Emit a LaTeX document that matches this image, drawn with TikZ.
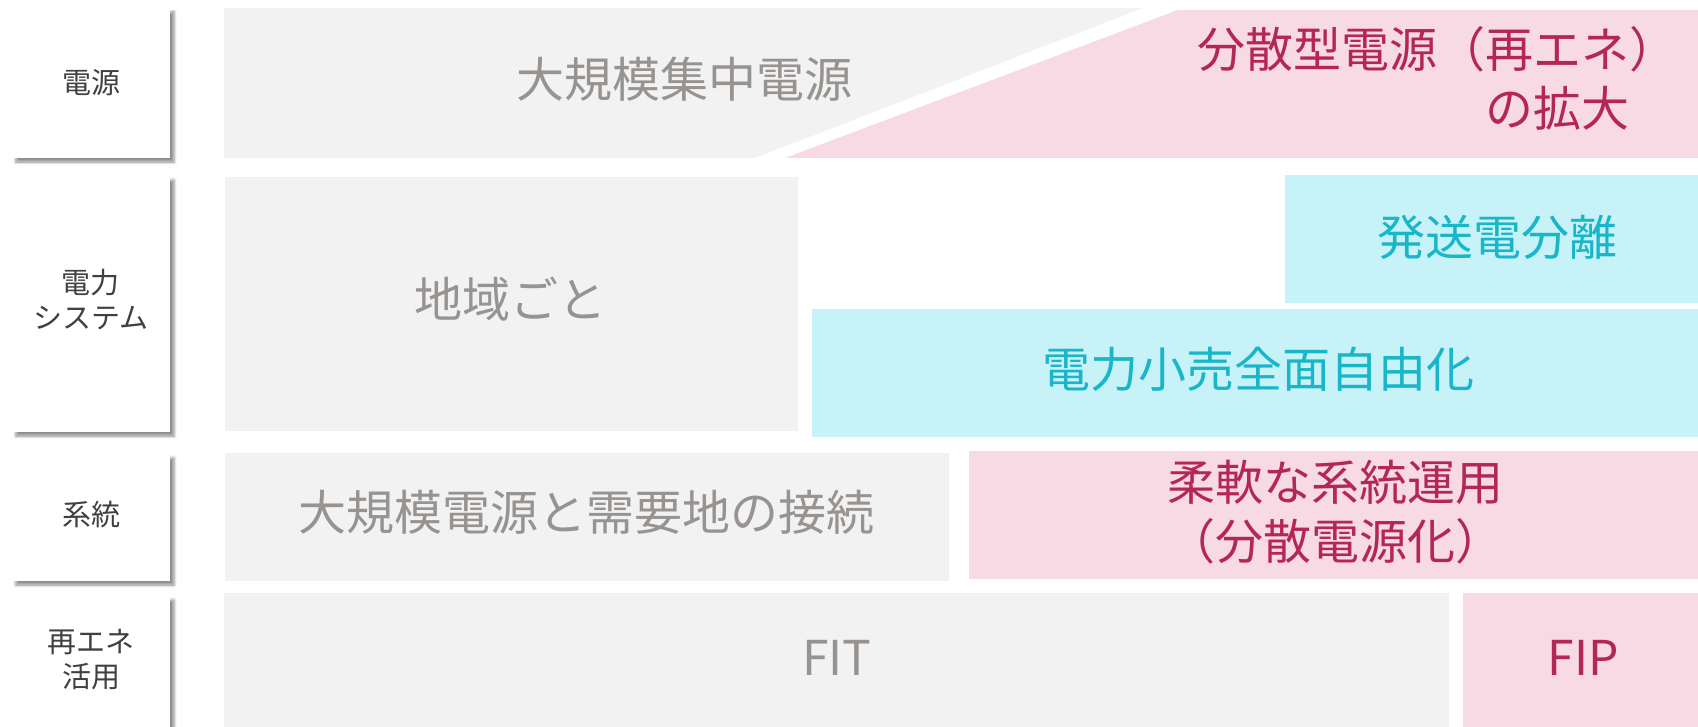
\documentclass[tikz,border=0pt]{standalone}
\usepackage{fontspec}
\setmainfont{Noto Sans CJK JP}
\usetikzlibrary{shadows.blur}
\definecolor{gbg}{RGB}{242,242,242}
\definecolor{gtx}{RGB}{150,147,145}
\definecolor{pbg}{RGB}{247,218,227}
\definecolor{ptx}{RGB}{181,38,88}
\definecolor{cbg}{RGB}{199,242,248}
\definecolor{ctx}{RGB}{25,182,202}
\definecolor{ltx}{RGB}{64,64,64}
\tikzset{
  labbox/.style={fill=white, blur shadow={shadow xshift=4pt, shadow yshift=-4pt, shadow blur radius=3pt, shadow opacity=45}},
  labtxt/.style={text=ltx, align=center, inner sep=0pt, font=\fontsize{29}{35}\selectfont},
  greybox/.style={fill=gbg},
  pinkbox/.style={fill=pbg},
  cyanbox/.style={fill=cbg},
  gtxt/.style={text=gtx, align=center, inner sep=0pt, font=\fontsize{48}{59}\selectfont},
  ptxt/.style={text=ptx, align=center, inner sep=0pt, font=\fontsize{48}{59}\selectfont},
  ctxt/.style={text=ctx, align=center, inner sep=0pt, font=\fontsize{48}{59}\selectfont},
}
\begin{document}
\begin{tikzpicture}[x=1pt,y=-1pt]
\useasboundingbox (0,0) rectangle (1698,727);
% label column
\path[labbox] (12,8) rectangle (170,158);
\path[labbox] (12,176) rectangle (170,432);
\path[labbox] (12,454) rectangle (170,581);
\path[labbox] (12,596) rectangle (170,750);
\node[labtxt] (l1) at (91,83) {電源};
\node[labtxt] (l2) at (91,300) {電力\\システム};
\node[labtxt] (l3) at (91,515) {系統};
\node[labtxt] (l4) at (91,660) {再エネ\\活用};
% row 1
\path[greybox] (224,8) -- (1143,8) -- (755,158) -- (224,158) -- cycle;
\path[pinkbox] (1178,10) -- (1698,10) -- (1698,158) -- (785,158) -- cycle;
\node[gtxt] (t1) at (684,79) {大規模集中電源};
\node[ptxt, anchor=base west] (t2a) at (1197,68) {分散型電源（再エネ）};
\node[ptxt, anchor=base west] (t2b) at (1485,127) {の拡大};
% row 2
\path[greybox] (225,177) rectangle (798,431);
\path[cyanbox] (1285,175) rectangle (1698,303);
\path[cyanbox] (812,309) rectangle (1698,437);
\node[gtxt] (t3) at (510,299) {地域ごと};
\node[ctxt] (t4) at (1497,237) {発送電分離};
\node[ctxt] (t5) at (1258,369) {電力小売全面自由化};
% row 3
\path[greybox] (225,453) rectangle (949,581);
\path[pinkbox] (969,451) rectangle (1698,579);
\node[gtxt] (t6) at (586,512) {大規模電源と需要地の接続};
\node[ptxt] (t7) at (1335,512) {柔軟な系統運用\\（分散電源化）};
% row 4
\path[greybox] (224,593) rectangle (1449,727);
\path[pinkbox] (1463,593) rectangle (1698,727);
\node[gtxt] (t8) at (837,658) {FIT};
\node[ptxt] (t9) at (1583,658) {FIP};
\end{tikzpicture}
\end{document}
